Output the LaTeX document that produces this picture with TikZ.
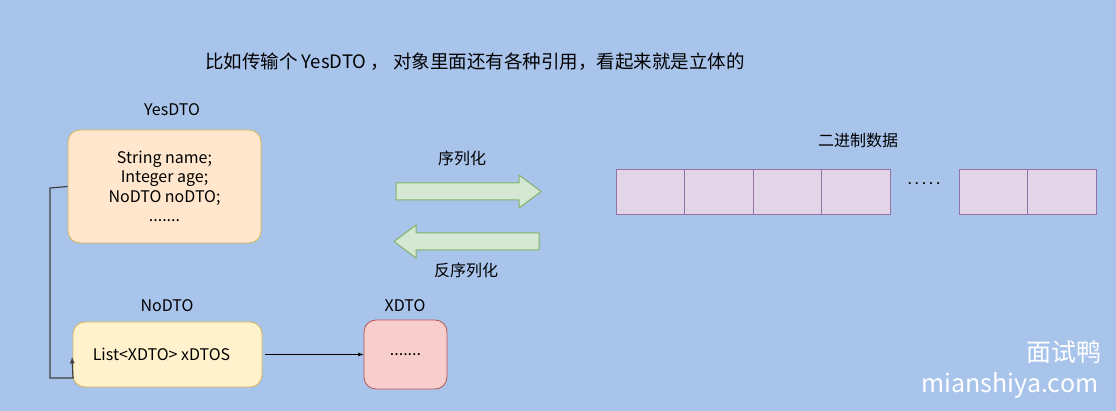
\documentclass[tikz,border=0pt]{standalone}
\usepackage{fontspec}
\setmainfont{Noto Sans CJK SC}
\definecolor{bgblue}{HTML}{A9C4EB}
\definecolor{orfill}{HTML}{FFE6CC}
\definecolor{yefill}{HTML}{FFF2CC}
\definecolor{yeline}{HTML}{D6B656}
\definecolor{rdfill}{HTML}{F8CECC}
\definecolor{rdline}{HTML}{B85450}
\definecolor{gnfill}{HTML}{D5E8D4}
\definecolor{gnline}{HTML}{82B366}
\definecolor{pufill}{HTML}{E1D5E7}
\definecolor{puline}{HTML}{9673A6}
\tikzset{
  lbl/.style={font=\fontsize{16}{18}\selectfont},
  dtobox/.style={draw, rounded corners=12pt, align=center, font=\fontsize{16}{19.5}\selectfont, inner sep=0pt, line width=0.8pt},
  cell/.style={draw=puline, fill=pufill, minimum width=68.5pt, minimum height=45pt, inner sep=0pt, line width=0.8pt},
  bigarrow/.style={draw=gnline, fill=gnfill, line width=1pt, line join=round}
}
\begin{document}
\begin{tikzpicture}[x=1pt,y=-1pt]
    \fill[bgblue] (0,0) rectangle (1116,411);
    \useasboundingbox (0,0) rectangle (1116,411);
    % Title
    \node[font=\fontsize{18.5}{20}\selectfont] (title) at (475,62) {比如传输个 YesDTO ， 对象里面还有各种引用，看起来就是立体的};
    % DTO boxes
    \node[dtobox, fill=orfill, draw=yeline, minimum width=193pt, minimum height=113pt] (yes) at (164.5,186.5) {String name;\\Integer age;\\NoDTO noDTO;\\.......};
    \node[lbl] (yeslbl) at (172,110) {YesDTO};
    \node[dtobox, fill=yefill, draw=yeline, minimum width=189pt, minimum height=65pt] (no) at (167.5,354.5) {List<XDTO> xDTOS\hspace{12pt}};
    \node[lbl] (nolbl) at (167,306) {NoDTO};
    \node[dtobox, fill=rdfill, draw=rdline, minimum width=83pt, minimum height=69pt] (x) at (405.5,354.5) {.......};
    \node[lbl] (xlbl) at (405,306) {XDTO};
    % Connectors
    \coordinate (corner) at (50,378);
    \draw[line width=1.2pt, draw=black!75, -latex] (yes.west) -- (50,188) -- (corner) -- (73,378) -- (72,357);
    \draw[line width=0.8pt, -latex] (no.east) ++(3,0) -- (x.west);
    % Arrows
    \draw[bigarrow] (396,183) -- (519,183) -- (519,175) -- (541,191.5) -- (519,208) -- (519,200) -- (396,200) -- cycle;
    \node[lbl] (serlbl) at (462,158) {序列化};
    \draw[bigarrow] (539,233) -- (416,233) -- (416,225) -- (394,241.5) -- (416,258) -- (416,250) -- (539,250) -- cycle;
    \node[lbl] (deserlbl) at (466,270) {反序列化};
    % Binary data
    \node[lbl] (binlbl) at (858,140) {二进制数据};
    \foreach \i in {0,1,2,3} {
      \node[cell] (c\i) at ({650.25+68.5*\i},191.5) {};
    }
    \node[cell] (c4) at (993.25,191.5) {};
    \node[cell] (c5) at (1061.75,191.5) {};
    \node[font=\fontsize{16}{18}\selectfont] (dots) at (924,184) {.\,.\,.\,.\,.};
    % Watermark
    \node[white, font=\fontsize{25}{28}\selectfont] (wm1) at (1064,352) {面试鸭};
    \node[white, font=\fontsize{25}{28}\selectfont] (wm2) at (1010,385) {mianshiya.com};
\end{tikzpicture}
\end{document}
